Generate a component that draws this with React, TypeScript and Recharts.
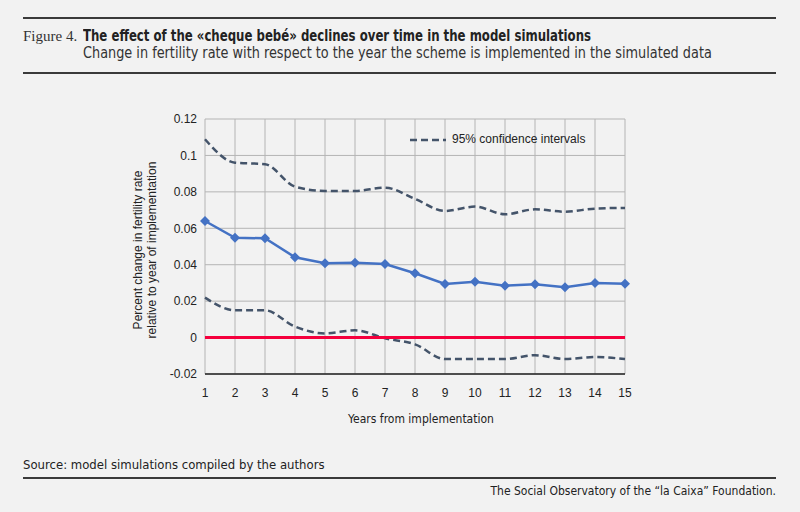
import React from "react";
import { LineChart, Line, XAxis, YAxis, CartesianGrid, ReferenceLine } from "recharts";

/** Years since the scheme was introduced. */
const years = [1, 2, 3, 4, 5, 6, 7, 8, 9, 10, 11, 12, 13, 14, 15];

/** Point estimate of the change in fertility rate. */
const estimate = [
  0.064, 0.0548, 0.0545, 0.0441, 0.0408, 0.0411, 0.0404, 0.0353, 0.0294, 0.0307, 0.0285, 0.0293,
  0.0276, 0.03, 0.0296,
];

/** Upper bound of the 95% confidence interval. */
const upperCI = [
  0.1089, 0.096, 0.0952, 0.0829, 0.0805, 0.0805, 0.0823, 0.0761, 0.0695, 0.0719, 0.0677, 0.0704,
  0.0691, 0.0708, 0.0712,
];

/** Lower bound of the 95% confidence interval. */
const lowerCI = [
  0.0219, 0.015, 0.015, 0.006, 0.0023, 0.004, -0.0004, -0.0037, -0.0118, -0.0118, -0.0118,
  -0.0097, -0.0118, -0.0107, -0.0118,
];

const yTicks = [-0.02, 0, 0.02, 0.04, 0.06, 0.08, 0.1, 0.12];

const BLUE = "#4472c4";
const SLATE = "#44546a";
const RED = "#f5003d";
const RULE = "#3a3a3a";
const NARROW = "'DejaVu Sans Condensed', 'Roboto', sans-serif";
const SANS = "'Liberation Sans', Arial, sans-serif";

const rows = years.map((year, i) => ({
  year,
  est: estimate[i],
  hi: upperCI[i],
  lo: lowerCI[i],
}));

function Diamond(props: { cx?: number; cy?: number; index?: number }) {
  const { cx, cy, index } = props;
  if (cx == null || cy == null) return null;
  const r = 5;
  return (
    <polygon
      key={`d-${index}`}
      points={`${cx},${cy - r} ${cx + r},${cy} ${cx},${cy + r} ${cx - r},${cy}`}
      fill={BLUE}
    />
  );
}

// squeezes a line of text horizontally, the condensed face of the original is not installed
function Squeeze({ sx, children, style }: { sx: number; children: React.ReactNode; style?: React.CSSProperties }) {
  return (
    <span
      style={{
        display: "inline-block",
        transform: `scaleX(${sx})`,
        transformOrigin: "left center",
        whiteSpace: "nowrap",
        ...style,
      }}
    >
      {children}
    </span>
  );
}

export default function App() {
  return (
    <div
      style={{
        position: "absolute",
        left: 0,
        top: 0,
        width: 800,
        height: 512,
        background: "#f2f2f2",
        overflow: "hidden",
        color: "#222",
      }}
    >
      {/* header */}
      <div style={{ position: "absolute", left: 23, top: 17, width: 753, height: 2, background: RULE }} />
      <div
        style={{
          position: "absolute",
          left: 23,
          top: 28,
          whiteSpace: "nowrap",
          lineHeight: "16px",
          fontFamily: "'Liberation Serif', serif",
          fontSize: 15,
          color: "#333",
        }}
      >
        Figure 4.
      </div>
      <div style={{ position: "absolute", left: 83, top: 28, lineHeight: "16px" }}>
        <Squeeze sx={0.87} style={{ fontFamily: NARROW, fontWeight: 700, fontSize: 15, color: "#222" }}>
          The effect of the «cheque bebé» declines over time in the model simulations
        </Squeeze>
      </div>
      <div style={{ position: "absolute", left: 83, top: 45, lineHeight: "16px" }}>
        <Squeeze sx={0.953} style={{ fontFamily: NARROW, fontSize: 15, color: "#333" }}>
          Change in fertility rate with respect to the year the scheme is implemented in the simulated data
        </Squeeze>
      </div>
      <div style={{ position: "absolute", left: 23, top: 72, width: 753, height: 2, background: RULE }} />

      <LineChart
        width={800}
        height={512}
        data={rows}
        margin={{ top: 119, right: 175, bottom: 98, left: 145 }}
        style={{ position: "absolute", left: 0, top: 0 }}
      >
        <CartesianGrid stroke="#b4b4b4" strokeWidth={1} />
        <XAxis
          dataKey="year"
          type="number"
          domain={[1, 15]}
          ticks={years}
          height={40}
          tickLine={false}
          tickMargin={8}
          axisLine={{ stroke: "#222", strokeWidth: 1.5 }}
          tick={{ fill: "#222", fontSize: 12, fontFamily: SANS }}
        />
        <YAxis
          type="number"
          domain={[-0.02, 0.12]}
          ticks={yTicks}
          width={60}
          axisLine={false}
          tickLine={false}
          tick={{ fill: "#222", fontSize: 12, fontFamily: SANS }}
        />
        <Line
          type="monotone"
          dataKey="hi"
          stroke={SLATE}
          strokeWidth={2.5}
          strokeDasharray="7 4"
          dot={false}
          isAnimationActive={false}
        />
        <Line
          type="monotone"
          dataKey="lo"
          stroke={SLATE}
          strokeWidth={2.5}
          strokeDasharray="7 4"
          dot={false}
          isAnimationActive={false}
        />
        <Line
          type="linear"
          dataKey="est"
          stroke={BLUE}
          strokeWidth={2.5}
          dot={Diamond}
          activeDot={false}
          isAnimationActive={false}
        />
        <ReferenceLine y={0} stroke={RED} strokeWidth={3} ifOverflow="visible" />
      </LineChart>

      {/* legend */}
      <svg style={{ position: "absolute", left: 408, top: 134 }} width={40} height={12}>
        <line x1={2} y1={6} x2={38} y2={6} stroke={SLATE} strokeWidth={2.5} strokeDasharray="7 4" />
      </svg>
      <div
        style={{
          position: "absolute",
          left: 452,
          top: 132,
          fontFamily: SANS,
          fontSize: 12,
          lineHeight: "14px",
          whiteSpace: "nowrap",
          color: "#222",
        }}
      >
        95% confidence intervals
      </div>

      {/* y-axis title */}
      <div
        style={{
          position: "absolute",
          left: 145,
          top: 250,
          width: 200,
          transform: "translate(-50%, -50%) rotate(-90deg)",
          textAlign: "center",
          fontFamily: SANS,
          fontSize: 12,
          lineHeight: "14px",
          color: "#222",
        }}
      >
        Percent change in fertility rate
        <br />
        relative to year of implementation
      </div>

      {/* x-axis title */}
      <div
        style={{
          position: "absolute",
          left: 421,
          top: 411,
          transform: "translateX(-50%)",
          whiteSpace: "nowrap",
          fontFamily: NARROW,
          fontSize: 12,
          lineHeight: "16px",
          color: "#222",
        }}
      >
        Years from implementation
      </div>

      {/* footer */}
      <div
        style={{
          position: "absolute",
          left: 23,
          top: 457,
          whiteSpace: "nowrap",
          fontFamily: NARROW,
          fontSize: 13,
          lineHeight: "16px",
          color: "#222",
        }}
      >
        Source: model simulations compiled by the authors
      </div>
      <div style={{ position: "absolute", left: 23, top: 477, width: 753, height: 2, background: RULE }} />
      <div
        style={{
          position: "absolute",
          right: 24,
          top: 483,
          whiteSpace: "nowrap",
          fontFamily: NARROW,
          fontSize: 12,
          lineHeight: "16px",
          color: "#222",
        }}
      >
        The Social Observatory of the “la Caixa” Foundation.
      </div>
    </div>
  );
}
